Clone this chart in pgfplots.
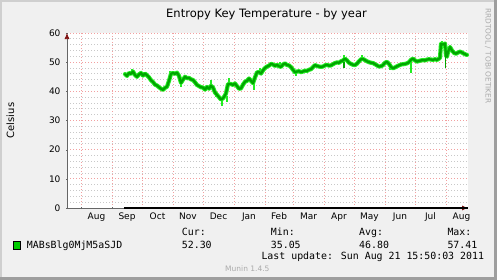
\documentclass[border=0pt]{standalone}
\usepackage{pgfplots}
\usepackage{pgfplotstable}
\pgfplotsset{compat=1.18}
\usepackage{fontspec}
\setmainfont{DejaVu Sans}
\newfontfamily\monofont{DejaVu Sans Mono}
\usetikzlibrary{arrows.meta}
\definecolor{bg}{HTML}{F0F0F0}
\definecolor{shA}{HTML}{CFCFCF}
\definecolor{shB}{HTML}{9E9E9E}
\definecolor{fringe}{HTML}{22EE22}
\definecolor{core}{HTML}{00A500}
\definecolor{legsq}{HTML}{00CC00}
\definecolor{majgrid}{HTML}{F2A0A0}
\definecolor{mingrid}{HTML}{C8C8C8}
\definecolor{arrowred}{HTML}{7F1010}
\definecolor{faint}{HTML}{AAAAAA}

\pgfplotstableread{
x y
44 45.9
46 45.3
48 46.3
50 46.0
52 46.8
54 45.6
56 45.0
58 45.8
60 46.3
62 45.4
64 46.1
66 45.5
68 44.8
70 43.8
72 43.2
74 42.3
76 42.0
78 41.4
80 40.9
82 40.5
84 41.2
86 41.6
88 43.6
90 46.0
92 46.3
94 46.0
96 46.4
98 45.3
100 42.9
102 44.0
104 45.0
106 44.5
108 44.6
110 44.1
112 43.9
114 43.1
116 42.2
118 41.8
120 41.4
122 41.3
124 40.6
126 41.5
128 40.9
130 41.9
132 41.3
134 39.6
136 38.8
138 38.0
140 37.2
142 37.6
144 38.6
145 39.3
147 42.5
150 42.5
152 42.2
154 42.7
156 41.8
158 40.9
160 41.0
162 42.3
164 43.3
166 43.6
168 44.4
170 43.6
172 42.8
174 44.8
176 46.5
178 46.6
180 46.1
182 47.2
184 48.0
186 48.5
188 48.8
190 49.4
192 49.2
194 48.7
196 49.1
198 48.6
200 48.4
202 49.2
204 49.6
206 49.0
208 48.9
210 48.3
212 47.4
214 46.5
216 46.8
218 46.9
220 46.6
222 46.8
224 47.1
226 47.0
228 47.4
230 47.6
232 48.3
234 49.0
236 48.7
238 48.5
240 48.4
242 48.5
244 48.9
246 49.1
248 48.8
250 48.9
252 49.3
254 49.7
256 49.9
258 49.8
260 50.3
262 50.6
264 51.2
266 50.6
268 49.8
270 49.4
272 49.1
274 49.0
276 49.5
278 50.3
280 51.0
282 51.1
284 50.7
286 50.3
288 50.0
290 49.8
292 49.7
294 49.3
296 48.9
298 48.5
300 48.6
302 49.0
304 49.8
306 50.1
308 49.4
310 48.4
312 47.9
314 48.2
316 48.6
318 48.9
320 49.2
322 49.3
324 49.4
326 49.6
328 50.0
330 50.8
332 51.2
334 50.6
336 50.2
338 50.4
340 50.6
342 50.7
344 50.6
346 50.9
348 51.0
350 50.9
352 50.8
354 51.0
356 50.8
358 51.2
359 51.5
360 56.3
362 56.0
364 56.4
365 52.2
366 51.9
367 53.5
369 55.2
371 54.0
373 53.2
375 52.9
377 53.3
379 53.6
381 53.3
383 52.9
385 52.6
386 52.5
}\coredata

\begin{document}
\begin{tikzpicture}[x=1pt,y=1pt]
\fill[bg] (0pt,0pt) rectangle (497pt,-280pt);
\fill[shA] (0pt,0pt) rectangle (2pt,-280pt);
\fill[shA] (0pt,0pt) rectangle (497pt,-2pt);
\fill[shB] (494pt,0pt) rectangle (497pt,-280pt);
\fill[shB] (0pt,-277pt) rectangle (497pt,-280pt);
\useasboundingbox (0pt,0pt) rectangle (497pt,-280pt);

\begin{axis}[
  at={(67pt,-208pt)}, anchor=south west,
  scale only axis, width=401pt, height=175pt,
  xmin=-14, xmax=387, ymin=0, ymax=60,
  clip=false,
  axis background/.style={fill=white},
  axis lines=left,
  axis line style={draw=gray!80!black, line width=0.7pt},
  every outer x axis line/.append style={-{Latex[length=6pt,width=5pt,color=arrowred]}},
  every outer y axis line/.append style={-{Latex[length=6pt,width=5pt,color=arrowred]}},
  xtick={0,31,61,92,122,153,184,212,243,273,304,334,365},
  xticklabels={},
  extra x ticks={15.5,46,76.5,107,137.5,168,198,227.5,258,288.5,319,349.5,380.5},
  extra x tick labels={Aug,Sep,Oct,Nov,Dec,Jan,Feb,Mar,Apr,May,Jun,Jul,Aug},
  extra x tick style={grid=none, major tick length=0pt},
  ytick={0,10,20,30,40,50,60},
  minor y tick num=4,
  grid=both,
  major grid style={majgrid, line width=0.7pt, dash pattern=on 1pt off 2pt},
  minor grid style={mingrid, line width=0.7pt, dash pattern=on 1pt off 2pt},
  major tick length=2pt, minor tick length=0pt,
  tick style={gray!80!black},
  tick label style={font=\fontsize{9}{10}\selectfont},
  /pgf/number format/assume math mode=true,
  yticklabel style={xshift=-2pt},
  xticklabel style={yshift=-1pt},
]
\addplot[black, line width=2.2pt] coordinates {(43,0) (387,0)};
\addplot[fringe, line width=4.2pt, line join=round, line cap=round] table[x=x,y=y] {\coredata};
\addplot[fringe, line width=1.2pt] coordinates {(51,45.5) (51,47.6)};
\addplot[fringe, line width=1.2pt] coordinates {(89,44) (89,46.9)};
\addplot[fringe, line width=1.2pt] coordinates {(100,43) (100,41.4)};
\addplot[fringe, line width=1.2pt] coordinates {(130,41.5) (130,43.8)};
\addplot[fringe, line width=1.2pt] coordinates {(135,40) (135,38)};
\addplot[fringe, line width=1.2pt] coordinates {(141,37.5) (141,35.1)};
\addplot[fringe, line width=1.2pt] coordinates {(146,38.5) (146,36.2)};
\addplot[fringe, line width=1.2pt] coordinates {(148,42) (148,44.5)};
\addplot[fringe, line width=1.2pt] coordinates {(173,43) (173,40.6)};
\addplot[fringe, line width=1.2pt] coordinates {(179,46) (179,48)};
\addplot[fringe, line width=1.2pt] coordinates {(199,48.5) (199,50.2)};
\addplot[fringe, line width=1.2pt] coordinates {(215,46.5) (215,45.2)};
\addplot[fringe, line width=1.2pt] coordinates {(263,50) (263,52.5)};
\addplot[fringe, line width=1.2pt] coordinates {(281,51) (281,52.4)};
\addplot[fringe, line width=1.2pt] coordinates {(309,49) (309,47.3)};
\addplot[fringe, line width=1.2pt] coordinates {(330,50) (330,46.2)};
\addplot[fringe, line width=1.2pt] coordinates {(361,56) (361,57.4)};
\addplot[core, line width=1.2pt] coordinates {(364.5,55) (364.5,48)};
\addplot[core, line width=1.2pt] coordinates {(263,50) (263,48)};
\addplot[core, line width=2.3pt, line join=round, line cap=round] table[x=x,y=y] {\coredata};
\end{axis}

\node[anchor=base, inner sep=0] at (266.5pt,-17.7pt) {\fontsize{11.5}{13}\selectfont Entropy Key Temperature - by year};
\node[rotate=90, inner sep=0] at (10.5pt,-120.5pt) {\fontsize{10}{12}\selectfont Celsius};
\node[rotate=-90, inner sep=0, text=faint] at (488pt,-56pt) {\fontsize{7.4}{9}\selectfont RRDTOOL / TOBI OETIKER};

\fill[legsq, draw=black, line width=0.6pt] (13.5pt,-241.7pt) rectangle (20.7pt,-249pt);
\begin{scope}[every node/.style={anchor=base west, inner sep=0}]
\node at (26.7pt,-248.3pt) {\monofont\fontsize{9.9}{11}\selectfont MABsBlg0MjM5aSJD};
\node at (181.7pt,-235.7pt) {\monofont\fontsize{9.9}{11}\selectfont Cur:};
\node at (181.7pt,-248.3pt) {\monofont\fontsize{9.9}{11}\selectfont 52.30};
\node at (270.7pt,-235.7pt) {\monofont\fontsize{9.9}{11}\selectfont Min:};
\node at (270.7pt,-248.3pt) {\monofont\fontsize{9.9}{11}\selectfont 35.05};
\node at (359pt,-235.7pt) {\monofont\fontsize{9.9}{11}\selectfont Avg:};
\node at (359pt,-248.3pt) {\monofont\fontsize{9.9}{11}\selectfont 46.80};
\node at (447.3pt,-235.7pt) {\monofont\fontsize{9.9}{11}\selectfont Max:};
\node at (447.3pt,-248.3pt) {\monofont\fontsize{9.9}{11}\selectfont 57.41};
\node at (261.3pt,-259.3pt) {\monofont\fontsize{9.9}{11}\selectfont Last update: Sun Aug 21 15:50:03 2011};
\node[text=faint] at (225pt,-271.7pt) {\fontsize{7.5}{9}\selectfont Munin 1.4.5};
\end{scope}
\end{tikzpicture}
\end{document}
